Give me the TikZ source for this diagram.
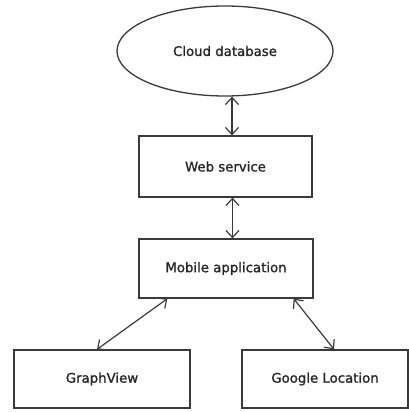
\documentclass[tikz,border=0pt]{standalone}
\usepackage{fontspec}
\setmainfont{DejaVu Sans}
\newfontfamily\boxfont{DejaVu Sans}[FakeBold=1.3]
\usetikzlibrary{arrows.meta,shapes.geometric}
\definecolor{edge}{HTML}{3A3A3A}
\definecolor{label}{HTML}{262626}

\begin{document}
\begin{tikzpicture}[x=1pt,y=-1pt,font=\boxfont\fontsize{13.3}{15}\selectfont,
        unit/.style={draw=edge,line width=1.3pt,text=label,inner sep=0pt,minimum height=60pt},
        link/.style={{Straight Barb[length=7pt,width=13pt]}-{Straight Barb[length=7pt,width=13pt]},
          draw=edge,line width=1.2pt}]
      \useasboundingbox (0,0) rectangle (409,412);
      \node[unit,ellipse,minimum width=216pt,minimum height=90pt] (db) at (225,51) {Cloud database};
      \node[unit,minimum width=173pt,minimum height=61pt] (ws) at (225.5,166.5) {Web service};
      \node[unit,minimum width=174pt,minimum height=59pt] (app) at (226,268.5) {Mobile application};
      \node[unit,minimum width=176pt,minimum height=58pt] (gv) at (102,379) {GraphView};
      \node[unit,minimum width=166pt,minimum height=58pt] (gl) at (325,379) {Google Location};
      \foreach \a/\b in {db/ws,ws/app}
        \draw[link] ([xshift=7pt]\a.south) -- ([xshift=7pt]\a.south |- \b.north);
      \draw[link] ([xshift=29pt]app.south west) -- ([xshift=-5pt]gv.north);
      \draw[link] ([xshift=-20pt]app.south east) -- ([xshift=9pt]gl.north);
    \end{tikzpicture}
\end{document}
